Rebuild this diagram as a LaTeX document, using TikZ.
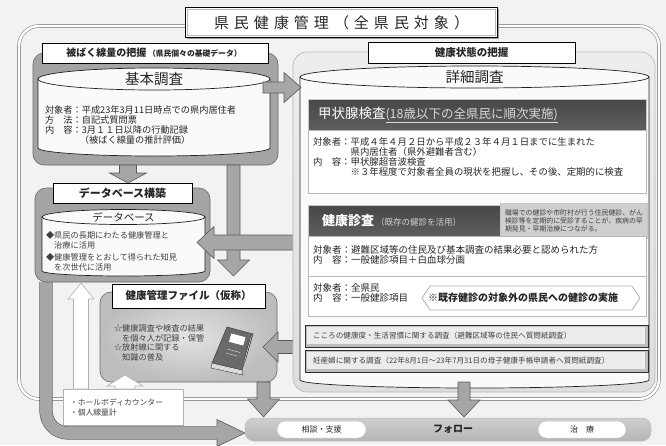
\documentclass[tikz,border=0pt]{standalone}
\usepackage{fontspec}
\setmainfont{Noto Sans CJK JP}
\usetikzlibrary{calc,shadows,shapes.symbols}

\definecolor{pagebg}{HTML}{F2F2F2}
\definecolor{framegray}{HTML}{8C8C8C}
\definecolor{panelgray}{HTML}{A4A4A4}
\definecolor{paneledge}{HTML}{6A6A6A}
\definecolor{barTop}{HTML}{474747}
\definecolor{barBot}{HTML}{5E5E5E}
\definecolor{arrFill}{HTML}{A6A6A6}
\definecolor{arrEdge}{HTML}{5A5A5A}
\definecolor{txt}{HTML}{262626}
\definecolor{softtxt}{HTML}{404040}
\definecolor{bookcover}{HTML}{6A6A6A}

\newcommand\fsz[1]{\fontsize{#1}{#1}\selectfont}
\newcommand\fszl[2]{\fontsize{#1}{#2}\selectfont}
\newcommand\tsp{\kern5pt}

% block arrow from coordinate #2 to coordinate #3:
% shaft half-width #4, head half-width #5, head length #6
\newcommand\blockarrow[6][solidarrow]{%
  \coordinate (bahead) at ($(#3)!#6!(#2)$);
  \draw[#1] ($(#2)!#4!90:(#3)$) -- ($(bahead)!#4!-90:(#2)$)
    -- ($(bahead)!#5!-90:(#2)$) -- (#3) -- ($(bahead)!#5!90:(#2)$)
    -- ($(bahead)!#4!90:(#2)$) -- ($(#2)!#4!-90:(#3)$) -- cycle;}

\begin{document}
\begin{tikzpicture}[x=1pt,y=-1pt,
  every node/.style={inner sep=0pt, outer sep=0pt, text=txt},
  solidarrow/.style={fill=arrFill, draw=arrEdge, line width=0.6pt, line join=miter},
  hollowarrow/.style={fill=white, draw=gray!60, line width=0.6pt, line join=miter},
  hdr/.style={draw=black, fill=white, line width=0.9pt},
  graypanel/.style={draw=paneledge, line width=0.6pt, fill=panelgray, rounded corners=11pt},
  cyl/.style={fill=white!96!gray, draw=gray!25!black, line width=0.7pt},
  darkbar/.style={draw=gray!45, line width=0.8pt, top color=barTop, bottom color=barBot},
  whitebox/.style={draw=gray!55, fill=white, line width=0.6pt},
  bevel/.style={fill=gray!52, draw=gray!35!black, line width=0.5pt},
  pill/.style={fill=white, draw=gray!45, line width=0.5pt, rounded corners=8.5pt},
  body/.style={anchor=west, align=left, text=txt}
]
\fill[pagebg] (0,0) rectangle (666,445);
\useasboundingbox (0,0) rectangle (666,445);

% overall frame
\node[draw=framegray, line width=0.6pt, double=white, double distance=2.4pt,
      rounded corners=20pt, minimum width=640, minimum height=373] (frame) at (339,212.5) {};

% title plate
\node[draw=black, line width=1.1pt, fill=white, minimum width=312, minimum height=30,
      drop shadow={shadow xshift=1.8pt, shadow yshift=-1.8pt, fill=gray!75, opacity=1}]
      (title) at (341.5,22.5) {};
\draw[gray!55, line width=0.8pt] ($(title.north west)+(2.3,2.3)$) rectangle ($(title.south east)+(-2.3,-2.3)$);
\node (titletext) at (title) {\fsz{15}県\tsp 民\tsp 健\tsp 康\tsp 管\tsp 理\tsp （\tsp 全\tsp 県\tsp 民\tsp 対\tsp 象\tsp ）};

% ---------- left column: exposure dose ----------
\coordinate (lshaftTop) at (46,282);
\coordinate (lcorner) at (46,433);
\coordinate (lheadBase) at (217,433);
\coordinate (ltip) at (245,433);
\draw[draw=arrEdge, line width=0.6pt, double=arrFill, double distance=12pt, rounded corners=22pt]
  (lshaftTop) -- (lcorner) -- (lheadBase);
\fill[arrFill] ($(lheadBase)+(0,-13.5)$) -- (ltip) -- ($(lheadBase)+(0,13.5)$) -- cycle;
\draw[arrEdge, line width=0.6pt, line join=miter] ($(lheadBase)+(0,-6.6)$) -- ($(lheadBase)+(0,-13.5)$)
  -- (ltip) -- ($(lheadBase)+(0,13.5)$) -- ($(lheadBase)+(0,6.6)$);

\node[graypanel, minimum width=245, minimum height=112] (panA) at (155.5,109) {};
\draw[cyl] (38,79) -- (38,148) arc[start angle=180, end angle=0, x radius=116, y radius=8] -- (270,79) -- cycle;
\draw[cyl] (154,79) ellipse[x radius=116, y radius=11];
\node (kihon) at (154,79.5) {\fsz{14.5}基本調査};
\node[body, font=\fszl{9.2}{10}] (kihonText) at (45,125.5) {対象者：平成23年3月11日時点での県内居住者\\
方　法：自記式質問票\\
内　容：3月１１日以降の行動記録\\
\hspace*{3.8em}（被ばく線量の推計評価）};
\node[hdr, minimum width=226, minimum height=20] (hdrA) at (155,53) {};
\node (hdrAtext) at (154,53) {{\bfseries\fsz{10}被ばく線量の把握}\,{\bfseries\fsz{7.8}（県民個々の基礎データ）}};

% database
\node[graypanel, minimum width=175, minimum height=94] (panDB) at (122.5,235) {};
\draw[cyl] (42,217) -- (42,271) arc[start angle=180, end angle=0, x radius=81.5, y radius=5] -- (205,217) -- cycle;
\draw[cyl] (123.5,217) ellipse[x radius=81.5, y radius=7.5];
\node (dbname) at (123.5,217.5) {\fsz{10.5}データベース};
\node[body, text=softtxt, font=\fszl{8.2}{10}] (dbItemA) at (46,240) {◆県民の長期にわたる健康管理と\\\hspace*{1em}治療に活用};
\node[body, text=softtxt, font=\fszl{8.2}{10}] (dbItemB) at (46,262) {◆健康管理をとおして得られた知見\\\hspace*{1em}を次世代に活用};

% health record file
\node[draw=paneledge, line width=0.6pt, rounded corners=11pt, inner color=gray!22, outer color=gray!52,
      minimum width=177, minimum height=90] (panF) at (188.5,337) {};
\node[body, text=softtxt, font=\fszl{8.2}{9.4}] (fileItemA) at (114,333.5) {☆健康調査や検査の結果\\\hspace*{1em}を個々人が記録・保管};
\node[body, text=softtxt, font=\fszl{8.2}{9.4}] (fileItemB) at (114,352.5) {☆放射線に関する\\\hspace*{1em}知識の普及};
% notebook
\fill[gray!15] (212,363) -- (242,370) -- (243,375) -- (211,368) -- cycle;
\draw[gray!40!black, line width=0.4pt] (212,363) -- (211,368) -- (243,375) -- (242,370);
\foreach \d in {1.3,2.6,3.9} \draw[gray!55, line width=0.3pt] (212,363+\d) -- (242.3,370+\d);
\draw[fill=bookcover, draw=black!75, line width=0.5pt] (227,327) -- (253,334) -- (242,370) -- (212,363) -- cycle;
\draw[fill=white, draw=black!70, line width=0.4pt] (231,333) -- (246,337) -- (243.5,346) -- (228.5,342) -- cycle;
\draw[gray!25, line width=0.4pt] (227,349) -- (240,352.5) (226,353) -- (237,356);
\draw[black!80, line width=1.8pt] (251.5,336) -- (244.5,361);
\draw[white, line width=0.5pt] (251.5,336) -- (244.5,361);

% ---------- arrows leaving the left column ----------
\coordinate (a2s) at (128,165);
\coordinate (a2e) at (128,183);
\blockarrow{a2s}{a2e}{8.5pt}{18.5pt}{10pt}
\node[hdr, minimum width=139, minimum height=20] (hdrDB) at (122.5,193) {\bfseries\fsz{11}データベース構築};

\coordinate (a3s) at (233.5,165);
\coordinate (a3e) at (233.5,276);
\blockarrow{a3s}{a3e}{6.5pt}{16pt}{16pt}
\coordinate (a4s) at (300,242.5);
\coordinate (a4e) at (197,242.5);
\blockarrow{a4s}{a4e}{7.5pt}{16pt}{17pt}
\coordinate (a5s) at (300,347);
\coordinate (a5e) at (263,347);
\blockarrow{a5s}{a5e}{6.5pt}{15pt}{15pt}
\node[hdr, minimum width=153, minimum height=24] (hdrF) at (188.5,296) {\bfseries\fsz{10.5}健康管理ファイル（仮称）};

% ---------- right column: health status ----------
\node[draw=gray!55, line width=0.7pt, top color=gray!14, bottom color=gray!26, rounded corners=14pt,
      minimum width=362, minimum height=340] (panB) at (474,222) {};
\draw[cyl] (300,77) -- (300,380) arc[start angle=180, end angle=0, x radius=174.5, y radius=8] -- (649,77) -- cycle;
\draw[cyl] (474.5,77) ellipse[x radius=174.5, y radius=11];
\node (shosai) at (474.5,77.5) {\fsz{14.5}詳細調査};
\node[hdr, minimum width=207, minimum height=21] (hdrB) at (471.5,52.5) {\bfseries\fsz{10.5}健康状態の把握};

% thyroid examination
\node[darkbar, minimum width=338, minimum height=31] (thyBar) at (477,114.5) {};
\node[anchor=west, text=white] (thyTitle) at ($(thyBar.west)+(10,0.5)$)
  {\fsz{13.5}甲状腺検査{\fsz{12.5}\color{gray!30}\underline{(18歳以下の全県民に順次実施)}}};
\node[whitebox, minimum width=338, minimum height=63] (thyBox) at (477,161.5) {};
\node[body, font=\fszl{9.4}{10}] (thyText) at (313,157) {対象者：平成４年４月２日から平成２３年４月１日までに生まれた\\
\hspace*{4em}県内居住者（県外避難者含む）\\
内　容：甲状腺超音波検査\\
\hspace*{4em}※３年程度で対象者全員の現状を把握し、その後、定期的に検査};

% general health check
\node[darkbar, minimum width=192, minimum height=31] (kenBar) at (404,220.5) {};
\node[anchor=west, text=white] (kenTitle) at ($(kenBar.west)+(14,0.5)$)
  {\bfseries\fsz{13}健康診査\,{\mdseries\fsz{8.5}\color{gray!35}（既存の健診を活用）}};
\node[fill=gray!38, draw=gray!45, line width=0.4pt, minimum width=147, minimum height=35] (note) at (573.5,220.5) {};
\fill[gray!38] (634,237.5) -- (645,237.5) -- (647,243) -- cycle;
\node[body, text=softtxt, font=\fszl{6.9}{8}] (noteText) at (505,221) {職場での健診や市町村が行う住民健診、がん\\
検診等を定期的に受診することが、疾病の早\\
期発見・早期治療につながる。};
\node[whitebox, minimum width=338, minimum height=80] (kenBox) at (477,276) {};
\draw[gray!55, line width=0.5pt] (kenBox.west) -- (kenBox.east);
\node[body, font=\fszl{9.5}{10.5}] (kenTextA) at (313,255) {対象者：避難区域等の住民及び基本調査の結果必要と認められた方\\
内　容：一般健診項目＋白血球分画};
\node[body, font=\fszl{9.5}{10.5}] (kenTextB) at (313,293) {対象者：全県民\\
内　容：一般健診項目};
\node[signal, signal to=west and east, signal pointer angle=112, draw=gray!60, fill=white,
      line width=0.8pt, minimum width=218, minimum height=24] (hex) at (531,298) {};
\node[anchor=west] (hexText) at (428,298) {\bfseries\fsz{10}※既存健診の対象外の県民への健診の実施};

% questionnaire surveys
\node[bevel, minimum width=343, minimum height=22] (kokoro) at (476.5,336) {};
\fill[gray!15] ($(kokoro.north west)+(1.5,1.5)$) rectangle ($(kokoro.south east)+(-3.5,-3)$);
\node[anchor=west, text=softtxt] (kokoroText) at ($(kokoro.west)+(8,-0.5)$)
  {\fsz{7.6}こころの健康度・生活習慣に関する調査（避難区域等の住民へ質問紙調査）};
\node[bevel, minimum width=343, minimum height=22] (ninsan) at (476.5,361) {};
\fill[gray!15] ($(ninsan.north west)+(1.5,1.5)$) rectangle ($(ninsan.south east)+(-3.5,-3)$);
\node[anchor=west, text=softtxt] (ninsanText) at ($(ninsan.west)+(8,-0.5)$)
  {\fsz{7.6}妊産婦に関する調査（22年8月1日～23年7月31日の母子健康手帳申請者へ質問紙調査）};

% basic survey feeds the detailed survey
\coordinate (a1s) at (263,87.5);
\coordinate (a1e) at (301,87.5);
\blockarrow{a1s}{a1e}{5.5pt}{15pt}{17pt}

% ---------- follow-up ----------
\node[draw=gray!50, line width=0.5pt, top color=gray!38, bottom color=gray!58, rounded corners=9pt,
      minimum width=406, minimum height=23] (follow) at (448,429.5) {};
\node[pill, minimum width=89, minimum height=17] (soudan) at (321.5,429.5) {\fsz{8}相談・支援};
\node[pill, minimum width=88, minimum height=17] (chiryo) at (582,429.5) {\fsz{8}治　療};
\node (followText) at (453,429.5) {\bfseries\fsz{10}フォロー};

\coordinate (a6s) at (263.5,382);
\coordinate (a6e) at (263.5,417);
\blockarrow{a6s}{a6e}{6.5pt}{16pt}{18pt}
\coordinate (a7s) at (464,382);
\coordinate (a7e) at (464,417);
\blockarrow{a7s}{a7e}{6pt}{16pt}{17pt}

% dosimetry box and its hollow arrows
\node[draw=gray!60, fill=white, line width=0.6pt, minimum width=120, minimum height=36] (wbox) at (123,407) {};
\node[body, text=softtxt, font=\fszl{7.8}{10}] (wboxText) at (70,407) {・ホールボディカウンター\\・個人線量計};
\coordinate (h1s) at (125,389);
\coordinate (h1e) at (125,375);
\blockarrow[hollowarrow]{h1s}{h1e}{10pt}{18pt}{11pt}
\coordinate (h2s) at (81,389);
\coordinate (h2e) at (81,283);
\blockarrow[hollowarrow]{h2s}{h2e}{7.5pt}{13pt}{16pt}
\end{tikzpicture}
\end{document}
